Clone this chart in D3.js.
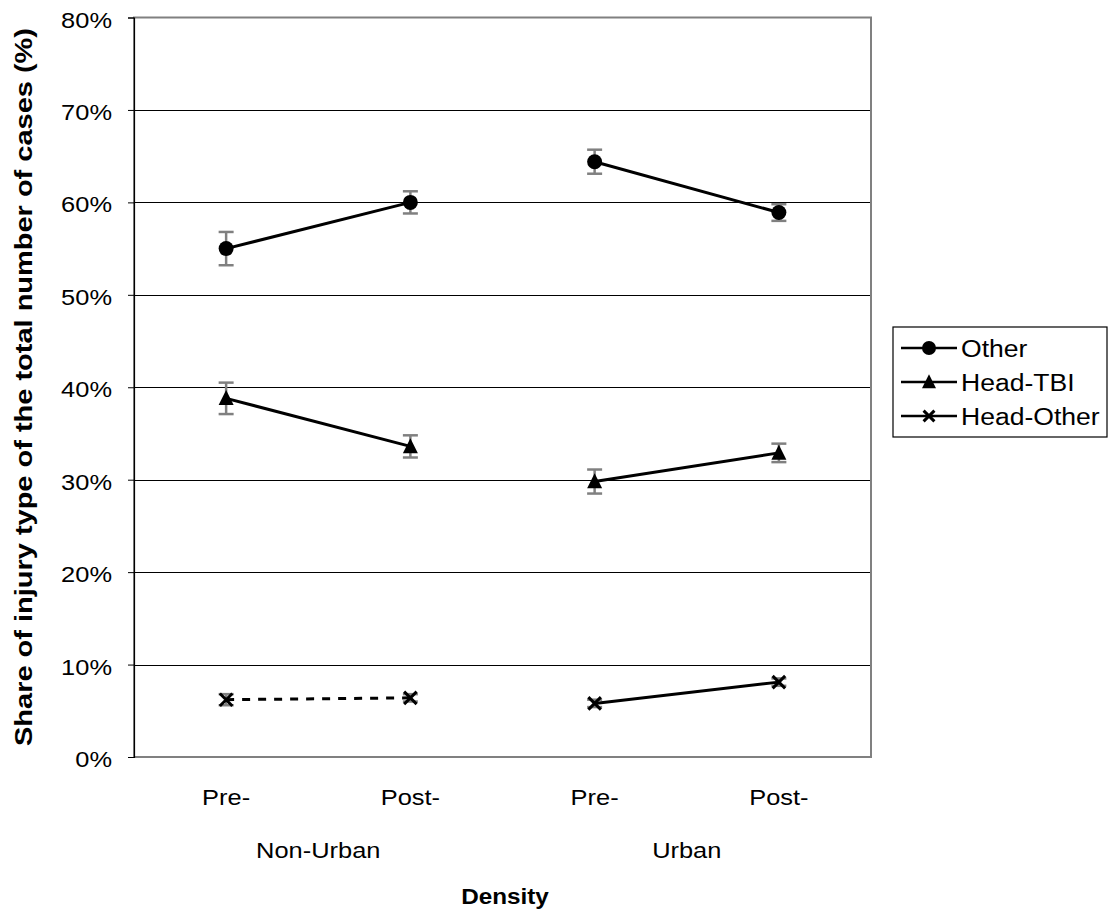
<!DOCTYPE html>
<html><head><meta charset="utf-8">
<script src="https://cdn.jsdelivr.net/npm/d3@7"></script>
<style>body{margin:0;background:#fff} text{font-family:"Liberation Sans",Arial,Helvetica,sans-serif;fill:#000}</style>
</head><body><svg id="c" width="1109" height="913"></svg>
<script>
const groups = ["Non-Urban", "Urban"];
const periods = ["Pre-", "Post-"];
const seriesNames = ["Other", "Head-TBI", "Head-Other"];
const otherValues = [55.0, 60.0, 64.4, 58.9];
const otherErrors = [1.8, 1.2, 1.3, 0.9];
const tbiValues = [38.8, 33.6, 29.8, 32.9];
const tbiErrors = [1.7, 1.2, 1.3, 1.0];
const headOtherValues = [6.2, 6.4, 5.8, 8.1];
const headOtherErrors = [0.6, 0.4, 0.4, 0.4];
const yTicks = [0, 10, 20, 30, 40, 50, 60, 70, 80];
const yTitle = "Share of injury type of the total number of cases (%)";
const xTitle = "Density";

const svg = d3.select("#c");
const L = 134, R = 871, T = 17.5, B = 757;
const SX = 1.13; // horizontal stretch of text seen in the reference
const keys = groups.flatMap(g => periods.map(p => g + "|" + p));
const x = d3.scaleBand().domain(keys).range([L, R]);
const gx = d3.scaleBand().domain(groups).range([L, R]);
const y = d3.scaleLinear().domain([0, 80]).range([B, T]);
const cx = k => x(k) + x.bandwidth() / 2;

function htext(g, X, Y, str, size, anchor, weight) {
  return g.append("text").attr("transform", `translate(${X},${Y}) scale(${SX},1)`)
    .attr("text-anchor", anchor).style("font-size", size + "px")
    .style("font-weight", weight || "normal").text(str);
}

const series = [
  {name: seriesNames[0], vals: otherValues, errs: otherErrors, marker: "circle"},
  {name: seriesNames[1], vals: tbiValues, errs: tbiErrors, marker: "triangle"},
  {name: seriesNames[2], vals: headOtherValues, errs: headOtherErrors, marker: "x"}
];

// gridlines
svg.append("g").selectAll("line").data(yTicks.filter(t => t > 0 && t < 80)).join("line")
  .attr("x1", L).attr("x2", R).attr("y1", d => Math.round(y(d)) + 0.5).attr("y2", d => Math.round(y(d)) + 0.5)
  .attr("stroke", "#000").attr("stroke-width", 1);

// plot border (gray)
svg.append("rect").attr("x", L).attr("y", T).attr("width", R - L).attr("height", B - T)
  .attr("fill", "none").attr("stroke", "#808080").attr("stroke-width", 2);

// y axis
const yAxis = d3.axisLeft(y).tickValues(yTicks).tickFormat("").tickSize(6);
const ga = svg.append("g").attr("transform", `translate(${L},0)`).call(yAxis);
ga.select(".domain").attr("stroke", "#000").attr("stroke-width", 1.2);
ga.selectAll(".tick line").attr("stroke", "#000");
const tl = svg.append("g");
yTicks.forEach(t => htext(tl, 112, y(t) + 10, t + "%", 22.5, "end"));

// x category labels
const xl = svg.append("g");
keys.forEach(k => htext(xl, cx(k), 805, k.split("|")[1], 22.5, "middle"));
groups.forEach(g => htext(xl, gx(g) + gx.bandwidth() / 2, 858, g, 22.5, "middle"));

// titles
htext(svg, 505, 904, xTitle, 21.5, "middle", "bold");
svg.append("text").attr("transform", `translate(32,387) rotate(-90)`).attr("text-anchor", "middle")
  .style("font-size", "24px").style("font-weight", "bold")
  .attr("textLength", 718).attr("lengthAdjust", "spacingAndGlyphs").text(yTitle);

// error bars
series.forEach(s => {
  const g = svg.append("g").attr("stroke", "#808080").attr("stroke-width", 2.5);
  keys.forEach((k, i) => {
    const v = s.vals[i], e = s.errs[i], X = cx(k);
    g.append("line").attr("x1", X).attr("x2", X).attr("y1", y(v + e)).attr("y2", y(v - e));
    [v + e, v - e].forEach(t => g.append("line").attr("x1", X - 7.5).attr("x2", X + 7.5).attr("y1", y(t)).attr("y2", y(t)));
  });
});

// lines (connect within each group)
const line = d3.line().x(d => d[0]).y(d => d[1]);
series.forEach((s, si) => {
  groups.forEach((g, gi) => {
    const pts = periods.map((p, pi) => [cx(g + "|" + p), y(s.vals[gi * 2 + pi])]);
    svg.append("path").attr("d", line(pts)).attr("fill", "none").attr("stroke", "#000")
      .attr("stroke-width", 3)
      .attr("stroke-dasharray", (si === 2 && gi === 0) ? "8,8" : null);
  });
});

// markers
function drawMarker(g, type, X, Y, size) {
  if (type === "circle") {
    g.append("circle").attr("cx", X).attr("cy", Y).attr("r", size / 2).attr("fill", "#000");
  } else if (type === "triangle") {
    const h = size;
    g.append("path").attr("d", `M${X},${Y - h * 0.55} L${X + h / 2},${Y + h * 0.45} L${X - h / 2},${Y + h * 0.45} Z`).attr("fill", "#000");
  } else {
    const r = size / 2.4;
    g.append("path").attr("d", `M${X - r},${Y - r} L${X + r},${Y + r} M${X - r},${Y + r} L${X + r},${Y - r}`)
      .attr("stroke", "#000").attr("stroke-width", 3).attr("fill", "none");
  }
}
series.forEach(s => {
  const g = svg.append("g");
  keys.forEach((k, i) => drawMarker(g, s.marker, cx(k), y(s.vals[i]), 15));
});

// legend
const lg = svg.append("g");
lg.append("rect").attr("x", 893).attr("y", 327).attr("width", 214).attr("height", 110)
  .attr("fill", "#fff").attr("stroke", "#000").attr("stroke-width", 1.2);
series.forEach((s, i) => {
  const Y = 348 + i * 34;
  lg.append("line").attr("x1", 901).attr("x2", 957).attr("y1", Y).attr("y2", Y).attr("stroke", "#000").attr("stroke-width", 2.5);
  drawMarker(lg, s.marker, 929, Y, s.marker === "x" ? 13 : 14);
  htext(lg, 961, Y + 8.5, s.name, 23.5, "start");
});
</script></body></html>
